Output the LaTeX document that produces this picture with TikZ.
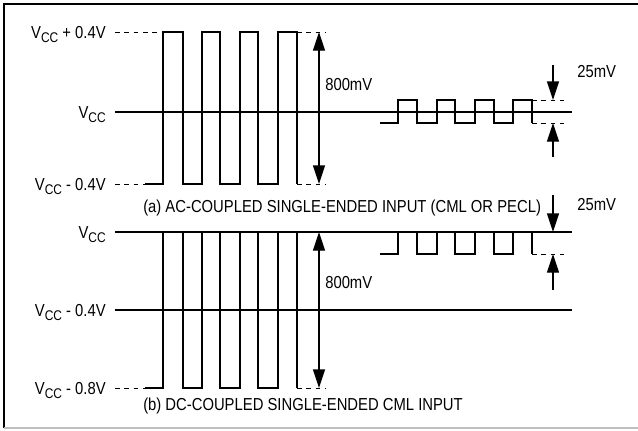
\documentclass[tikz,border=0pt]{standalone}
\usepackage{fontspec}
\setmainfont[FakeStretch=0.855]{Liberation Sans}
\usetikzlibrary{arrows.meta}

\newcommand{\vcc}{V\raisebox{-3pt}{\fontsize{10.5}{11}\selectfont CC}}

\tikzset{
  wave/.style={line width=1.8pt, line join=miter},
  rail/.style={line width=0.8pt},
  guide/.style={line width=0.6pt, dash pattern=on 3.5pt off 3.5pt},
  span/.style={line width=1pt, {Triangle[length=14pt,width=9pt]}-{Triangle[length=14pt,width=9pt]}},
  tip/.style={line width=1pt, -{Triangle[length=14pt,width=9pt]}},
  lbl/.style={inner sep=0pt, font=\fontsize{13}{15}\selectfont},
}

\begin{document}
\begin{tikzpicture}[x=0.75pt,y=-0.75pt]
\useasboundingbox (0,0) rectangle (638,430);
% frame
\draw[line width=1.2pt] (4,428) -- (4,4) -- (638,4);
\draw[line width=1pt, black!25] (4,428) -- (638,428);

% (a) ac-coupled
\draw[rail] (115,112) -- (572,112);
\draw[guide] (115,32) -- (163,32);
\draw[guide] (115,184) -- (145,184);
\draw[guide] (297,32) -- (326,32);
\draw[guide] (297,184) -- (326,184);
\draw[guide] (532,100) -- (564,100);
\draw[guide] (532,123) -- (564,123);
\draw[wave] (145,184) -- (163,184) -- (163,32) -- (183,32) -- (183,184) -- (202,184) -- (202,32) -- (220,32) -- (220,184)
  -- (240,184) -- (240,32) -- (258,32) -- (258,184) -- (278,184) -- (278,32) -- (297,32) -- (297,184);
\draw[wave] (380,123) -- (398,123) -- (398,100) -- (417,100) -- (417,123) -- (437,123) -- (437,100) -- (455,100) -- (455,123)
  -- (475,123) -- (475,100) -- (494,100) -- (494,123) -- (513,123) -- (513,100) -- (532,100) -- (532,123);

\node[lbl, anchor=base east] (hiA) at (106,38) {\vcc{} + 0.4V};
\node[lbl, anchor=base east] (midA) at (106,118) {\vcc};
\node[lbl, anchor=base east] (loA) at (106,190) {\vcc{} - 0.4V};

\coordinate (spanAt) at (319,32);
\coordinate (spanAb) at (319,184);
\draw[span] (spanAt) -- (spanAb);
\node[lbl, anchor=west] (swingA) at (325,85) {800mV};

\coordinate (smallAtop) at (553,65);
\coordinate (smallAhi) at (553,100);
\coordinate (smallAbot) at (553,157);
\coordinate (smallAlo) at (553,123);
\draw[tip] (smallAtop) -- (smallAhi);
\draw[tip] (smallAbot) -- (smallAlo);
\node[lbl, anchor=west] (smallA) at (577,72) {25mV};

\node[lbl, anchor=base west] (capA) at (143,212) {(a) AC-COUPLED SINGLE-ENDED INPUT (CML OR PECL)};

% (b) dc-coupled
\draw[rail] (115,232) -- (572,232);
\draw[rail] (115,310) -- (572,310);
\draw[guide] (115,388) -- (145,388);
\draw[guide] (297,388) -- (326,388);
\draw[guide] (532,254) -- (564,254);
\draw[wave] (145,388) -- (163,388) -- (163,232) -- (183,232) -- (183,388) -- (202,388) -- (202,232) -- (220,232) -- (220,388)
  -- (240,388) -- (240,232) -- (258,232) -- (258,388) -- (278,388) -- (278,232) -- (297,232) -- (297,388);
\draw[wave] (380,254) -- (398,254) -- (398,232) -- (417,232) -- (417,254) -- (437,254) -- (437,232) -- (455,232) -- (455,254)
  -- (475,254) -- (475,232) -- (494,232) -- (494,254) -- (513,254) -- (513,232) -- (532,232) -- (532,254);

\node[lbl, anchor=base east] (hiB) at (106,238) {\vcc};
\node[lbl, anchor=base east] (midB) at (106,316) {\vcc{} - 0.4V};
\node[lbl, anchor=base east] (loB) at (106,394) {\vcc{} - 0.8V};

\coordinate (spanBt) at (319,232);
\coordinate (spanBb) at (319,388);
\draw[span] (spanBt) -- (spanBb);
\node[lbl, anchor=west] (swingB) at (325,283) {800mV};

\coordinate (smallBtop) at (553,195);
\coordinate (smallBhi) at (553,232);
\coordinate (smallBbot) at (553,290);
\coordinate (smallBlo) at (553,254);
\draw[tip] (smallBtop) -- (smallBhi);
\draw[tip] (smallBbot) -- (smallBlo);
\node[lbl, anchor=west] (smallB) at (577,205) {25mV};

\node[lbl, anchor=base west] (capB) at (143,410) {(b) DC-COUPLED SINGLE-ENDED CML INPUT};
\end{tikzpicture}
\end{document}
